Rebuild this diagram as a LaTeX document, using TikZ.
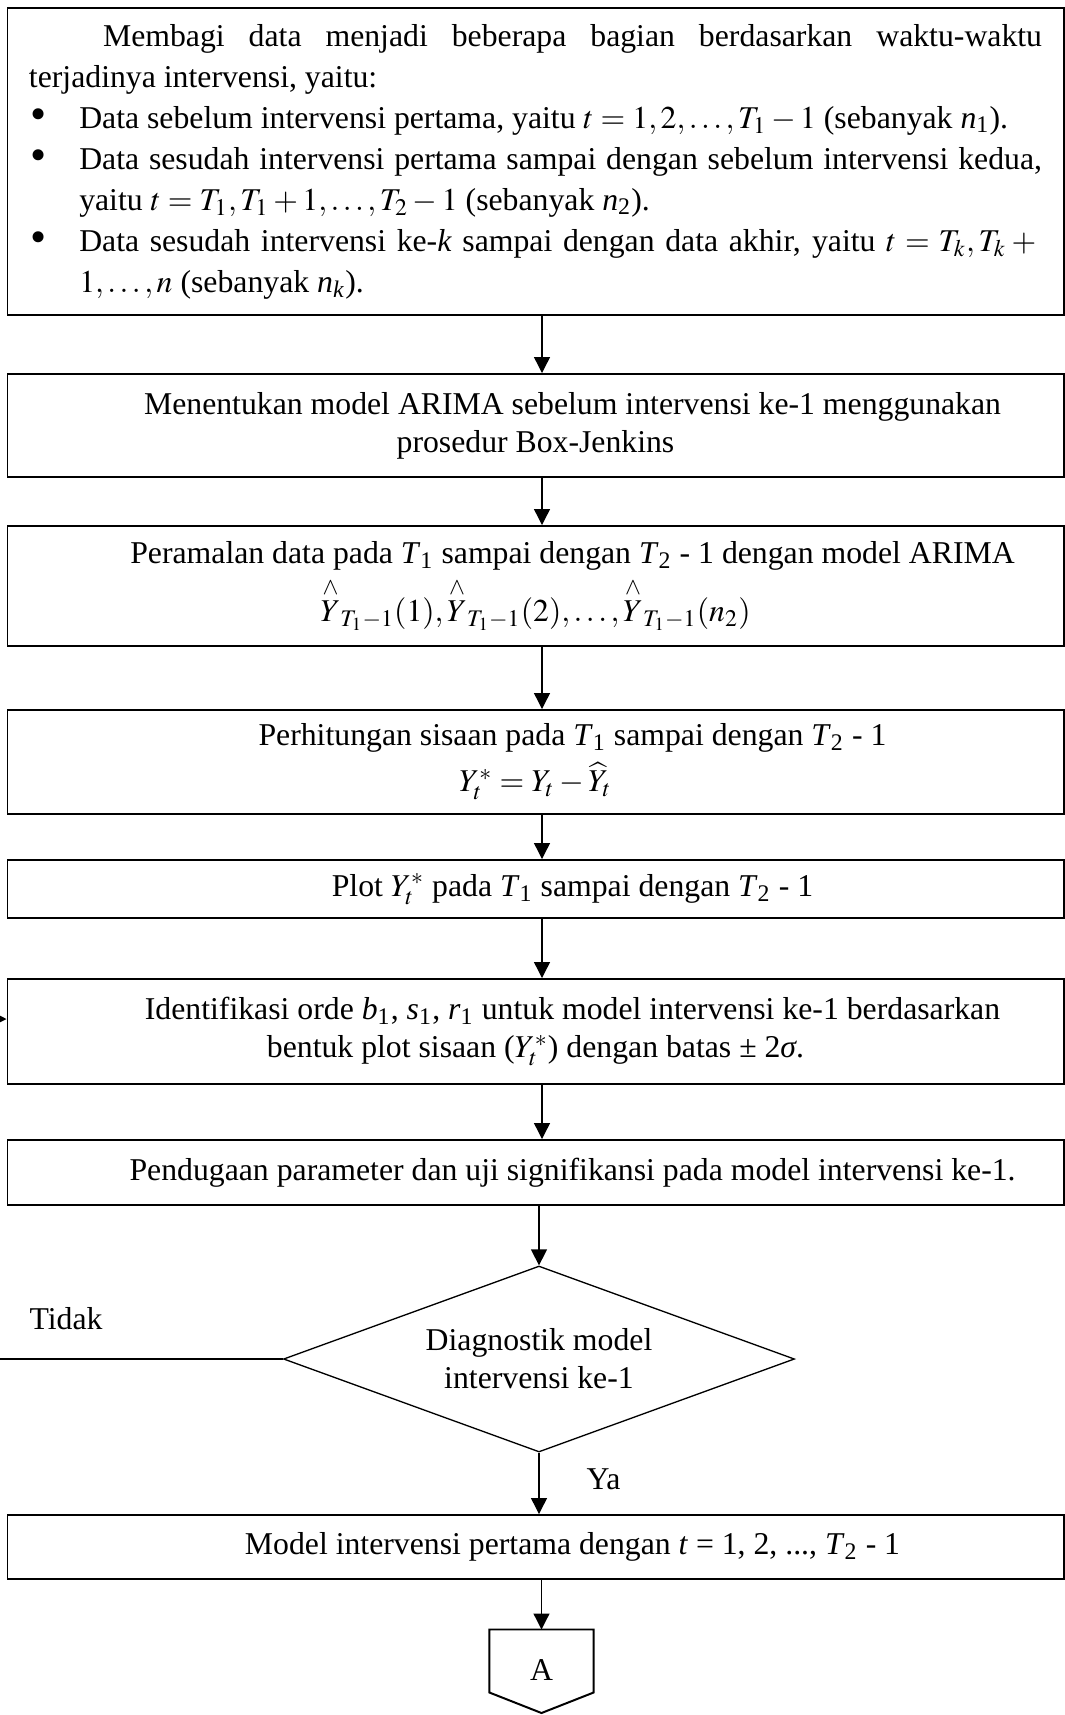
\documentclass[tikz,border=0pt]{standalone}
\usepackage{amsmath}
\usepackage{mathptmx}
\usepackage{fontspec}
\setmainfont{Liberation Serif}
\usetikzlibrary{shapes.geometric,arrows.meta}

\newcommand{\px}{0.378pt}
\newcommand{\inden}{\noindent\hspace*{28pt}}
\newcommand{\Tn}[1]{\textit{T}\textsubscript{#1}}
\newcommand{\yramal}[1]{{\overset{\wedge}{Y}}_{T_1-1}(#1)}
\newcommand{\butir}{\par\noindent\hangindent=19pt\hangafter=1\makebox[19pt][l]{\hspace{0.6pt}\raisebox{-0.4pt}{\scalebox{1.45}{\textbullet}}}}

\tikzset{
  kotak/.style={draw, line width=0.75pt, minimum width=1056*\px, align=center, inner sep=0pt},
  panah/.style={-{Triangle[length=6pt,width=6pt]}, line width=0.5pt},
  label teks/.style={anchor=base west, inner sep=0pt},
}

\begin{document}
\begin{tikzpicture}[x=0.378pt, y=-0.378pt, font=\fontsize{12pt}{14.4pt}\selectfont]
  \useasboundingbox (0,0) rectangle (1065,1715);
  \coordinate (jalur) at (542,0);
  % pembagian data
  \node[kotak, minimum height=307*\px, text width=1013*\px, align=justify,
        font=\fontsize{12pt}{15.5pt}\selectfont] (b1) at (535.5,161.5) {%
    \inden Membagi data menjadi beberapa bagian berdasarkan waktu-waktu\linebreak
    terjadinya intervensi, yaitu:
    \butir Data sebelum intervensi pertama, yaitu $t = 1, 2, \ldots, T_1 - 1$ (sebanyak \textit{n}\textsubscript{1}).
    \butir Data sesudah intervensi pertama sampai dengan sebelum intervensi kedua,\linebreak
    yaitu $t = T_1, T_1 + 1, \ldots, T_2 - 1$ (sebanyak \textit{n}\textsubscript{2}).
    \butir Data sesudah intervensi ke-\textit{k} sampai dengan data akhir, yaitu $t = T_k, T_k +{}$\linebreak
    $1, \ldots, n$ (sebanyak \textit{n}\textsubscript{\textit{k}}).\par};
  % langkah berikutnya
  \node[kotak, minimum height=103*\px] (b2) at (535.5,425.5)
    {\inden Menentukan model ARIMA sebelum intervensi ke-1 menggunakan\\prosedur Box-Jenkins};
  \node[kotak, minimum height=120*\px] (b3) at (535.5,586)
    {\inden Peramalan data pada \Tn{1} sampai dengan \Tn{2} - 1 dengan model ARIMA\\[2pt]
     $\yramal{1}, \yramal{2}, \ldots, \yramal{n_2}$};
  \node[kotak, minimum height=104*\px] (b4) at (535.5,762)
    {\inden Perhitungan sisaan pada \Tn{1} sampai dengan \Tn{2} - 1\\[3pt]$Y_t^{*} = Y_t - \widehat{Y}_t$};
  \node[kotak, minimum height=58*\px] (b5) at (535.5,889)
    {\inden Plot $Y_t^{*}$ pada \Tn{1} sampai dengan \Tn{2} - 1};
  \node[kotak, minimum height=105*\px] (b6) at (535.5,1031.5)
    {\inden Identifikasi orde \textit{b}\textsubscript{1}, \textit{s}\textsubscript{1}, \textit{r}\textsubscript{1} untuk model intervensi ke-1 berdasarkan\\
     bentuk plot sisaan ($Y_t^{*}$) dengan batas ± 2\textit{σ}.};
  \node[kotak, minimum height=65*\px] (b7) at (535.5,1172.5)
    {\inden Pendugaan parameter dan uji signifikansi pada model intervensi ke-1.};
  % keputusan
  \node[draw, shape=diamond, line width=0.5pt, shape aspect=2.75, inner sep=0pt,
        minimum width=511*\px, minimum height=186*\px, align=center] (dk) at (539,1359)
    {Diagnostik model\\intervensi ke-1};
  \node[kotak, minimum height=64*\px] (b8) at (535.5,1547)
    {\inden Model intervensi pertama dengan \textit{t} = 1, 2, ..., \Tn{2} - 1};
  % penghubung ke halaman berikut
  \node[minimum width=103*\px, minimum height=62*\px, inner sep=0pt] (konA) at (541.5,1661) {};
  \coordinate (ujungA) at (541.5,1713);
  \draw[line width=0.75pt] (konA.north west) -- (konA.north east) -- (konA.south east)
    -- (ujungA) -- (konA.south west) -- cycle;
  \node (hurufA) at (541.5,1670) {A};
  % label
  \node[label teks] (tidak) at (29,1329) {Tidak};
  \node[label teks] (ya) at (586,1489) {Ya};
  % panah
  \draw[panah] (b1.south -| jalur) -- (b2.north -| jalur);
  \draw[panah] (b2.south -| jalur) -- (b3.north -| jalur);
  \draw[panah] (b3.south -| jalur) -- (b4.north -| jalur);
  \draw[panah] (b4.south -| jalur) -- (b5.north -| jalur);
  \draw[panah] (b5.south -| jalur) -- (b6.north -| jalur);
  \draw[panah] (b6.south -| jalur) -- (b7.north -| jalur);
  \draw[panah] (b7.south -| dk.north) -- (dk.north);
  \draw[panah] (dk.south) -- (b8.north -| dk.south);
  \draw[panah] (b8.south -| konA.north) -- (konA.north);
  \coordinate (balik) at (-12,1019);
  \draw[panah] (dk.west) -| (balik) -- (b6.west |- balik);
\end{tikzpicture}
\end{document}
